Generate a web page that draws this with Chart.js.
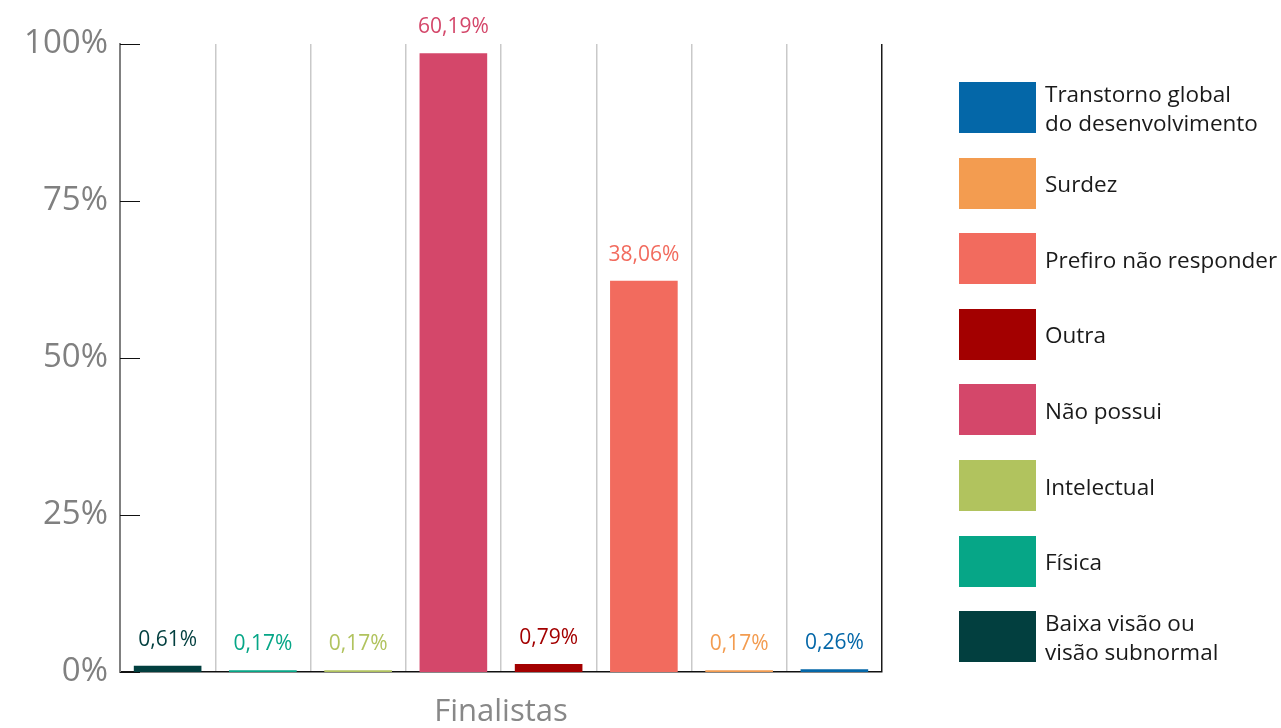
<!DOCTYPE html>
<html>
<head>
<meta charset="utf-8">
<script src="https://cdn.jsdelivr.net/npm/chart.js@4.4.1/dist/chart.umd.min.js"></script>
<style>
  body { margin: 0; background: #fff; font-family: "Open Sans", sans-serif; }
  #wrap { position: relative; width: 1281px; height: 728px; overflow: hidden; }
  #wrap canvas { position: absolute; left: 0; top: 0; }
  #legenda { position: absolute; left: 959px; top: 82px; }
  .item { position: absolute; left: 0; width: 320px; height: 51px; }
  .caixa { position: absolute; left: 0; top: 0; width: 77px; height: 51px; }
  .texto { position: absolute; left: 86px; top: 50%; transform: translateY(-50%);
           font-size: 22.5px; line-height: 29px; color: #1a1a1a; white-space: pre; }
</style>
</head>
<body>
<div id="wrap">
  <canvas id="grafico" width="1281" height="728"></canvas>
  <div id="legenda"></div>
</div>
<script>
// dados do grafico (Finalistas por deficiencia)
const categorias = [
  'Baixa visão ou\nvisão subnormal',
  'Física',
  'Intelectual',
  'Não possui',
  'Outra',
  'Prefiro não responder',
  'Surdez',
  'Transtorno global\ndo desenvolvimento',
];
const valores = [0.61, 0.17, 0.17, 60.19, 0.79, 38.06, 0.17, 0.26];
const cores = ['#023f3f', '#06a687', '#b1c35e', '#d4476a', '#a30000', '#f26b5e', '#f39c50', '#0467a8'];
const rotulosY = ['0%', '25%', '50%', '75%', '100%'];
const maxEixo = 61.1; // topo do eixo (o grafico original esta escalado assim)
const rotuloX = 'Finalistas';

const fonte = '"Open Sans", sans-serif';

// legenda (ordem invertida, como no original)
const legenda = document.getElementById('legenda');
categorias.slice().reverse().forEach((nome, i) => {
  const idx = categorias.length - 1 - i;
  const item = document.createElement('div');
  item.className = 'item';
  item.style.top = (i * 75.6) + 'px';
  item.innerHTML = '<div class="caixa" style="background:' + cores[idx] + '"></div><div class="texto"></div>';
  item.querySelector('.texto').textContent = nome;
  legenda.appendChild(item);
});

// rotulos em cima das barras + tracinhos do eixo y para dentro
const rotulosBarras = {
  id: 'rotulosBarras',
  afterDatasetsDraw(chart) {
    const ctx = chart.ctx;
    const meta = chart.getDatasetMeta(0);
    const y = chart.scales.y;
    ctx.save();
    ctx.strokeStyle = '#111';
    ctx.lineWidth = 1;
    y.ticks.forEach(t => {
      const py = Math.round(y.getPixelForValue(t.value)) + 0.5;
      ctx.beginPath();
      ctx.moveTo(y.right, py);
      ctx.lineTo(y.right + 20, py);
      ctx.stroke();
    });
    ctx.font = '21px ' + fonte;
    ctx.textAlign = 'center';
    ctx.textBaseline = 'alphabetic';
    meta.data.forEach((bar, i) => {
      ctx.fillStyle = cores[i];
      ctx.fillText(valores[i].toFixed(2).replace('.', ',') + '%', bar.x, bar.y - 20);
    });
    ctx.restore();
  }
};

const grafico = new Chart(document.getElementById('grafico'), {
  type: 'bar',
  data: {
    labels: categorias,
    datasets: [{
      data: valores,
      backgroundColor: cores,
      categoryPercentage: 1,
      barPercentage: 0.71,
    }]
  },
  options: {
    responsive: false,
    animation: false,
    layout: { padding: { top: 44, right: 399, bottom: 0, left: 0 } },
    plugins: { legend: { display: false }, tooltip: { enabled: false } },
    scales: {
      x: {
        grid: {
          offset: true,
          drawTicks: false,
          lineWidth: 1.5,
          color: c => c.type === 'tick' ? '#c9c9c9' : '#1a1a1a',
        },
        border: { color: '#111', width: 1.5 },
        ticks: { display: false },
        title: {
          display: true, text: rotuloX, color: '#888',
          font: { size: 31, family: fonte }, padding: { top: 0, bottom: -3 }
        },
        afterFit: s => { s.height = 56; }
      },
      y: {
        min: 0,
        max: maxEixo,
        grid: { display: false },
        border: { color: '#808080', width: 2 },
        ticks: {
          color: '#808080',
          font: { size: 33, family: fonte },
          padding: 4,
          callback: (v, i) => rotulosY[i]
        },
        afterBuildTicks: s => {
          s.ticks = rotulosY.map((r, i) => ({ value: maxEixo * i / (rotulosY.length - 1) }));
        },
        afterFit: s => { s.width = 120; }
      }
    }
  },
  plugins: [rotulosBarras]
});
</script>
</body>
</html>
